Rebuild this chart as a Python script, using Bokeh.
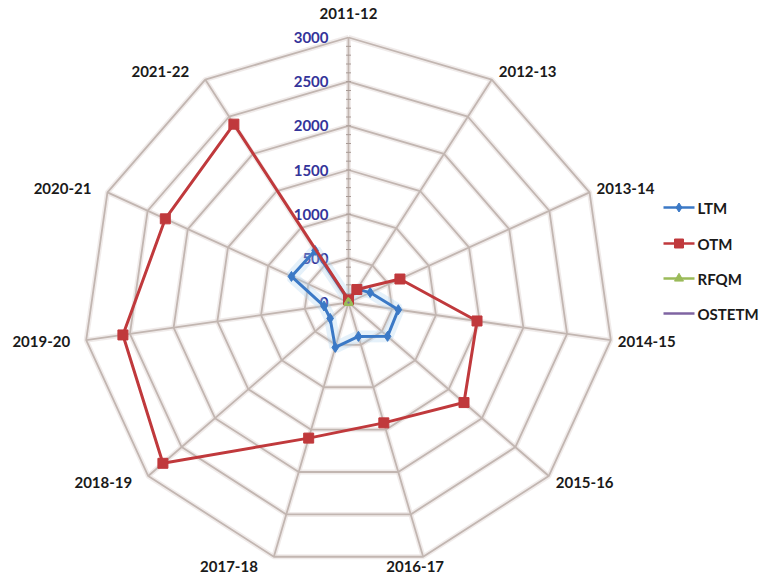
import numpy as np
from bokeh.plotting import figure
from bokeh.models import Range1d
from bokeh.embed import file_html
from bokeh.resources import INLINE
from bokeh.core.properties import value

# ---- data -------------------------------------------------------------
categories = ["2011-12", "2012-13", "2013-14", "2014-15", "2015-16", "2016-17",
              "2017-18", "2018-19", "2019-20", "2020-21", "2021-22"]
ltm = [30, 180, 270, 570, 585, 400, 530, 275, 280, 710, 700]
otm = [30, 175, 640, 1470, 1730, 1420, 1600, 2780, 2580, 2280, 2400]
rfqm = [10, 8, 10, 12, 12, 10, 10, 9, 9, 10, 12]
ostetm = [2, 2, 3, 3, 3, 2, 2, 3, 3, 2, 2]
ring_values = [500, 1000, 1500, 2000, 2500, 3000]
tick_values = [0, 500, 1000, 1500, 2000, 2500, 3000]
tick_labels = ["0", "500", "1000", "1500", "2000", "2500", "3000"]

series_names = ["LTM", "OTM", "RFQM", "OSTETM"]
series_data = [ltm, otm, rfqm, ostetm]
series_colors = ["#3b79c6", "#c0393c", "#9bbb59", "#7f64a2"]
series_markers = ["diamond", "square", "triangle", None]

# ---- canvas geometry --------------------------------------------------
W, H = 763, 579
CX, CY = 348, 302            # pixel position of the radar centre
R_MAX = max(ring_values)
PPU = 265.0 / R_MAX           # pixels per data unit


def to_data(xp, yp):
    return (xp - CX) / PPU, (CY - yp) / PPU


n = len(categories)
theta = np.arange(n) * 2 * np.pi / n
sin_t, cos_t = np.sin(theta), np.cos(theta)

p = figure(width=W, height=H,
           x_range=Range1d(-CX / PPU, (W - CX) / PPU),
           y_range=Range1d(-(H - CY) / PPU, CY / PPU),
           x_axis_type=None, y_axis_type=None,
           output_backend="svg", toolbar_location=None, min_border=0)
p.outline_line_color = None
p.grid.visible = False
p.background_fill_color = "white"

# ---- grid: polygon rings and spokes -----------------------------------
ring_xs = [list(r * np.append(sin_t, sin_t[0])) for r in ring_values]
ring_ys = [list(r * np.append(cos_t, cos_t[0])) for r in ring_values]
spoke_xs = [[0, R_MAX * s] for s in sin_t]
spoke_ys = [[0, R_MAX * c] for c in cos_t]

for width, color, alpha in [(5, "#e9e3e1", 0.7), (1.8, "#c2b6b1", 1.0)]:
    p.multi_line(ring_xs, ring_ys, line_color=color, line_width=width, line_alpha=alpha)
    p.multi_line(spoke_xs, spoke_ys, line_color=color, line_width=width, line_alpha=alpha)

# minor tick marks along the value axis
minor = np.arange(100, R_MAX, 100)
p.segment(x0=np.full(len(minor), -2.5 / PPU), y0=minor,
          x1=np.full(len(minor), 2.5 / PPU), y1=minor,
          line_color="#a89a95", line_width=1)

# value axis labels
p.text(x=[-20 / PPU] * len(tick_values), y=tick_values, text=tick_labels,
       text_align="right", text_baseline="middle",
       text_font=value("Lato"), text_font_style="bold",
       text_font_size="15px", text_color="#34349a")

# ---- category labels --------------------------------------------------
for i, cat in enumerate(categories):
    vx, vy = R_MAX * sin_t[i], R_MAX * cos_t[i]
    s, c = sin_t[i], cos_t[i]
    if abs(s) < 0.2:
        lx, ly, align, base = vx, vy + 19 / PPU, "center", "bottom"
    elif s > 0 and c < -0.9:
        lx, ly, align, base = vx - 8 / PPU, vy + 10 * c / PPU, "center", "middle"
    elif s > 0:
        lx, ly, align, base = vx + 7 / PPU, vy + 10 * c / PPU, "left", "middle"
    else:
        lx, ly, align, base = vx - 16 / PPU, vy + 10 * c / PPU, "right", "middle"
    p.text(x=[lx], y=[ly], text=[cat], text_align=align, text_baseline=base,
           text_font=value("Lato"), text_font_style="bold",
           text_font_size="15px", text_color="#1a1a1a")

# ---- series -----------------------------------------------------------
def closed_xy(vals):
    v = np.asarray(vals, dtype=float)
    x = v * sin_t
    y = v * cos_t
    return np.append(x, x[0]), np.append(y, y[0]), x, y


# soft halo that surrounds the LTM trace
hx, hy, _, _ = closed_xy(ltm)
p.line(hx, hy, line_color="#a9d0ee", line_width=12, line_alpha=0.3)

for name, vals, color, marker in zip(series_names, series_data,
                                     series_colors, series_markers):
    lx_, ly_, px_, py_ = closed_xy(vals)
    lw = 3 if name in ("LTM", "OTM") else 2
    p.line(lx_, ly_, line_color=color, line_width=lw)
    if marker:
        size = 10 if name != "RFQM" else 7
        p.scatter(px_, py_, marker=marker, size=size, fill_color=color,
                  line_color=color)

# ---- legend -----------------------------------------------------------
legend_y = [207, 243, 278, 313]
for name, color, marker, yp in zip(series_names, series_colors, series_markers, legend_y):
    x0, y0 = to_data(663, yp)
    x1, _ = to_data(694, yp)
    xm, _ = to_data(678.5, yp)
    xt, _ = to_data(697, yp)
    p.line([x0, x1], [y0, y0], line_color=color, line_width=2.5)
    if marker:
        p.scatter([xm], [y0], marker=marker, size=9, fill_color=color, line_color=color)
    p.text(x=[xt], y=[y0], text=[name], text_align="left", text_baseline="middle",
           text_font=value("Lato"), text_font_style="bold",
           text_font_size="15px", text_color="#1a1a1a")

open("out.html", "w").write(file_html(p, INLINE))
